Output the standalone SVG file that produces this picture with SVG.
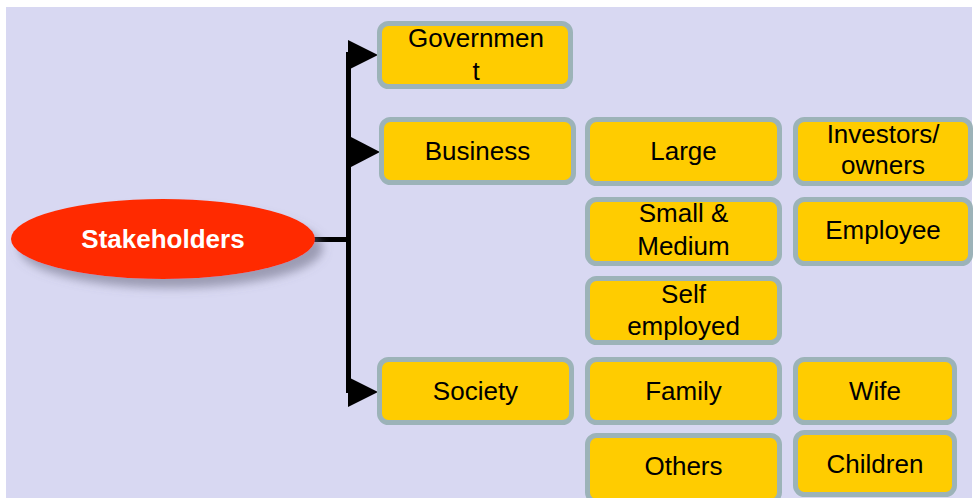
<svg xmlns="http://www.w3.org/2000/svg" width="974" height="498" viewBox="0 0 974 498">
<defs>
<filter id="sh" x="-20%" y="-40%" width="150%" height="200%">
<feGaussianBlur in="SourceAlpha" stdDeviation="5"/>
<feOffset dx="8" dy="9" result="b"/>
<feFlood flood-color="#6a6a80" flood-opacity="0.55"/>
<feComposite in2="b" operator="in"/>
<feMerge><feMergeNode/><feMergeNode in="SourceGraphic"/></feMerge>
</filter>
<style>
.box{fill:#FFCC00;stroke:#9CB3B8;stroke-width:5}
.t{font-family:"Liberation Sans",Arial,sans-serif;font-size:26px;fill:#000;text-anchor:middle}
.ln{stroke:#000;stroke-width:5;fill:none}
.ah{fill:#000}
</style>
</defs>
<rect x="0" y="0" width="974" height="498" fill="#fff"/>
<rect x="6" y="7" width="966" height="491" fill="#D8D8F2"/>

<g id="connectors">
<path class="ln" d="M313 239.5H351"/>
<path class="ln" d="M348.5 52V393"/>
<polygon class="ah" points="348,40 378,55 348,70"/>
<polygon class="ah" points="351,137 380,152 351,167"/>
<polygon class="ah" points="348,377 378,392 348,407"/>
</g>

<g id="stakeholders">
<ellipse cx="163" cy="239" rx="152" ry="40" fill="#FF2A00" filter="url(#sh)"/>
<text x="163" y="248" font-family="Liberation Sans,Arial,sans-serif" font-size="26" font-weight="bold" fill="#fff" text-anchor="middle">Stakeholders</text>
</g>

<g id="government">
<rect class="box" x="379.5" y="23.5" width="191" height="63" rx="9"/>
<text class="t" x="476" y="47">Governmen</text>
<text class="t" x="476" y="80">t</text>
</g>
<g id="business">
<rect class="box" x="381.5" y="119.5" width="192" height="63" rx="9"/>
<text class="t" x="477.5" y="160">Business</text>
</g>
<g id="society">
<rect class="box" x="379.5" y="359.5" width="192" height="63" rx="9"/>
<text class="t" x="475.5" y="400">Society</text>
</g>
<g id="large">
<rect class="box" x="587.5" y="119.5" width="192" height="64" rx="9"/>
<text class="t" x="683.5" y="160">Large</text>
</g>
<g id="investors">
<rect class="box" x="795.5" y="119.5" width="175" height="64" rx="9"/>
<text class="t" x="883" y="143">Investors/</text>
<text class="t" x="883" y="174">owners</text>
</g>
<g id="small-medium">
<rect class="box" x="587.5" y="199.5" width="192" height="64" rx="9"/>
<text class="t" x="683.5" y="222">Small &amp;</text>
<text class="t" x="683.5" y="255">Medium</text>
</g>
<g id="employee">
<rect class="box" x="795.5" y="199.5" width="175" height="64" rx="9"/>
<text class="t" x="883" y="239">Employee</text>
</g>
<g id="self-employed">
<rect class="box" x="587.5" y="278.5" width="192" height="64" rx="9"/>
<text class="t" x="683.5" y="303">Self</text>
<text class="t" x="683.5" y="335">employed</text>
</g>
<g id="family">
<rect class="box" x="587.5" y="359.5" width="192" height="63" rx="9"/>
<text class="t" x="683.5" y="400">Family</text>
</g>
<g id="wife">
<rect class="box" x="795.5" y="359.5" width="159" height="63" rx="9"/>
<text class="t" x="875" y="400">Wife</text>
</g>
<g id="others">
<rect class="box" x="587.5" y="435.5" width="192" height="66" rx="9"/>
<text class="t" x="683.5" y="475">Others</text>
</g>
<g id="children">
<rect class="box" x="795.5" y="432.5" width="159" height="62" rx="9"/>
<text class="t" x="875" y="473">Children</text>
</g>
</svg>
